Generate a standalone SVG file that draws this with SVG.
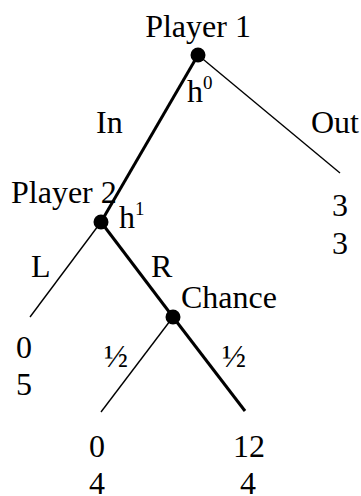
<svg xmlns="http://www.w3.org/2000/svg" width="361" height="496" viewBox="0 0 361 496">
<style>
text{font-family:"Liberation Serif","Times New Roman",serif;font-size:32px;fill:#000}
.sup{font-size:19px}
.thin{stroke:#000;stroke-width:1.4;fill:none}
.thick{stroke:#000;stroke-width:3;fill:none}
.node{fill:#000}
</style>
<rect width="361" height="496" fill="#fff"/>
<g id="connectors">
<line class="thick" x1="198" y1="55" x2="101" y2="222"/>
<line class="thin" x1="198" y1="55" x2="340" y2="173"/>
<line class="thin" x1="101" y1="222" x2="30" y2="317"/>
<line class="thick" x1="101" y1="222" x2="173" y2="317"/>
<line class="thin" x1="173" y1="317" x2="101" y2="412"/>
<line class="thick" x1="173" y1="317" x2="245" y2="411"/>
</g>
<g id="labels">
<text x="96" y="133">In</text>
<text x="311" y="133">Out</text>
<text x="31" y="277">L</text>
<text x="151" y="277">R</text>
<text x="104" y="367">½</text>
<text x="222" y="367">½</text>
</g>
<g id="player1">
<circle class="node" cx="198" cy="55" r="7.5"/>
<text x="198" y="37" text-anchor="middle">Player 1</text>
<text x="187" y="102">h<tspan class="sup" dy="-13">0</tspan></text>
</g>
<g id="player2">
<circle class="node" cx="101" cy="222" r="7.5"/>
<text x="11" y="203">Player 2</text>
<text x="119" y="228">h<tspan class="sup" dy="-13">1</tspan></text>
</g>
<g id="chance">
<circle class="node" cx="173" cy="317" r="7.5"/>
<text x="181" y="308">Chance</text>
</g>
<g id="out-payoff">
<text x="340" y="216" text-anchor="middle">3</text>
<text x="340" y="254" text-anchor="middle">3</text>
</g>
<g id="l-payoff">
<text x="24" y="358" text-anchor="middle">0</text>
<text x="24" y="395" text-anchor="middle">5</text>
</g>
<g id="half-left-payoff">
<text x="97" y="457" text-anchor="middle">0</text>
<text x="97" y="494" text-anchor="middle">4</text>
</g>
<g id="half-right-payoff">
<text x="249" y="457" text-anchor="middle">12</text>
<text x="248" y="494" text-anchor="middle">4</text>
</g>
</svg>
